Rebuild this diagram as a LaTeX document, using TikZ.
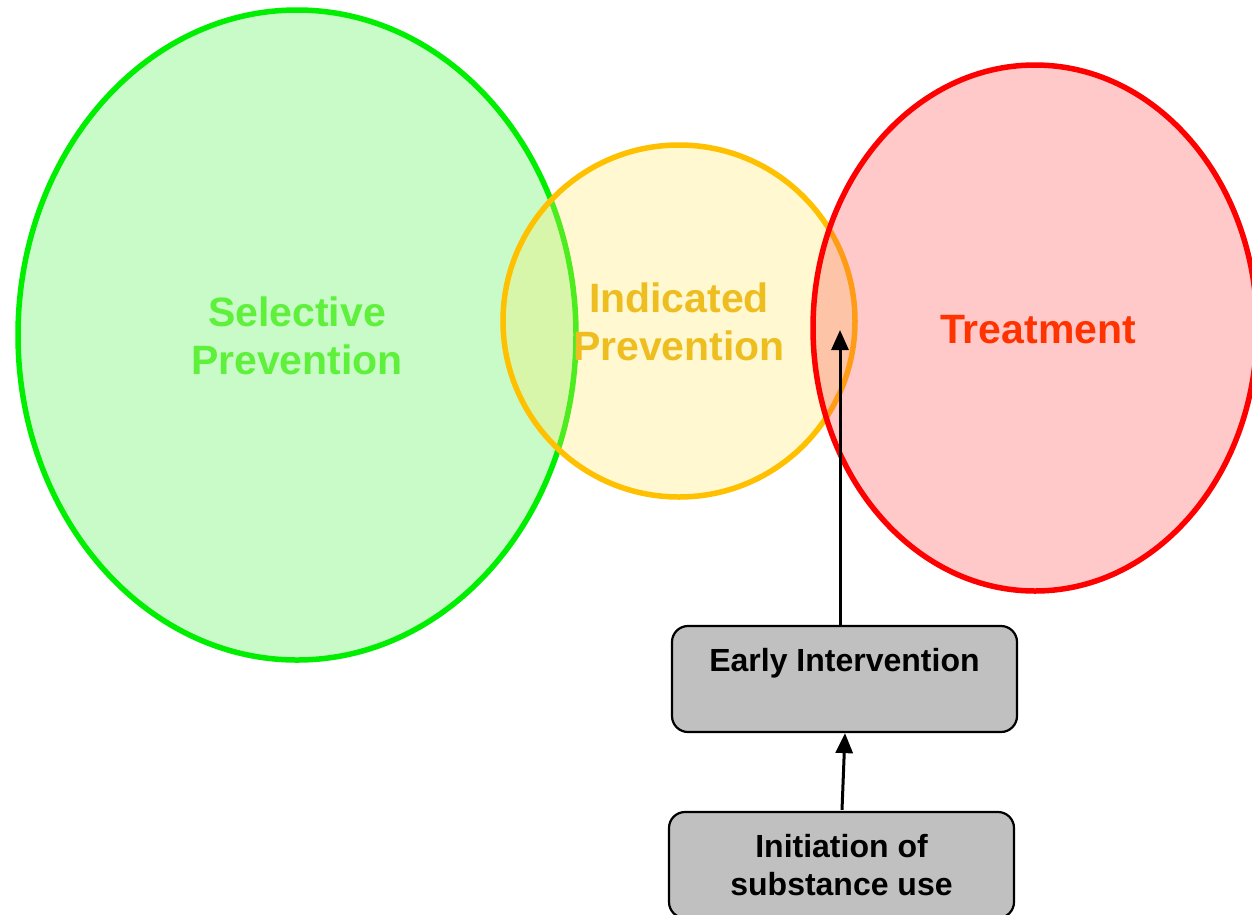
\documentclass[tikz,border=0pt]{standalone}
\usepackage{fontspec}
\setmainfont{Liberation Sans}
\usetikzlibrary{arrows.meta}

\definecolor{selgreen}{RGB}{0,238,0}
\definecolor{selgreentext}{RGB}{95,240,60}
\definecolor{indyellow}{RGB}{255,192,0}
\definecolor{indyellowtext}{RGB}{238,190,32}
\definecolor{treatred}{RGB}{255,0,0}
\definecolor{treatredtext}{RGB}{255,51,0}
\definecolor{boxgray}{RGB}{192,192,192}

\tikzset{
  zone/.style={line width=5.5pt, fill opacity=0.3},
  zonelabel/.style={font=\bfseries\fontsize{41}{48}\selectfont, align=center},
  stagebox/.style={draw=black, line width=2.2pt, fill=boxgray, rounded corners=16pt,
    minimum width=345pt, minimum height=106pt, align=center, inner sep=0pt,
    font=\bfseries\fontsize{32}{38}\selectfont},
  uparrow/.style={draw=black, line width=3pt, -{Triangle[length=20pt,width=17pt]}},
}

\begin{document}
\begin{tikzpicture}[x=1pt,y=-1pt]
  \useasboundingbox (0,0) rectangle (1252,914);
  \clip (0,0) rectangle (1252,914);

  % overlapping service zones
  \draw[zone, draw=selgreen, fill=selgreen!70]
    (297,335) ellipse [x radius=279pt, y radius=325pt];
  \draw[zone, draw=indyellow, fill=yellow!80!orange!60]
    (679,321) ellipse [x radius=176pt, y radius=176pt];
  \draw[zone, draw=treatred, fill=red!70]
    (1035,328) ellipse [x radius=222pt, y radius=263pt];

  % zone titles
  \node[zonelabel, text=selgreentext] (sel) at (297,336) {Selective\\Prevention};
  \node[zonelabel, text=indyellowtext] (ind) at (679,322) {Indicated\\Prevention};
  \node[zonelabel, text=treatredtext] (trt) at (1038,330) {Treatment};

  % pathway boxes
  \node[stagebox] (early) at (844.5,679) {Early Intervention\\\mbox{}};
  \node[stagebox] (init) at (841.5,865) {Initiation of\\substance use};

  \coordinate (entry) at (840,330);

  % pathway arrows
  \draw[uparrow] (init.north) ++(0.5,-1) -- ([xshift=0.5pt]early.south);
  \draw[uparrow] (early.north -| entry) -- (entry);
\end{tikzpicture}
\end{document}
